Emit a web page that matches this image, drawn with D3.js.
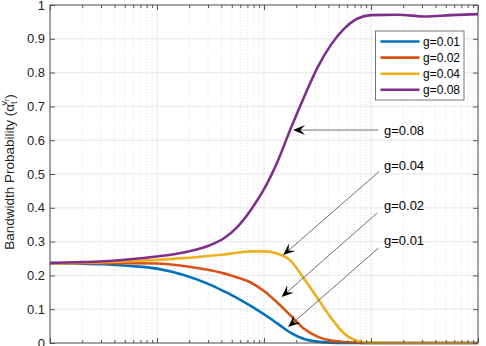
<!DOCTYPE html>
<html>
<head>
<meta charset="utf-8">
<script src="https://d3js.org/d3.v7.min.js"></script>
<style>
  body { margin: 0; background: #fff; }
  text { font-family: "Liberation Sans", Arial, sans-serif; }
</style>
</head>
<body>
<div id="chart"></div>
<script>
// x positions of the read-off points (log axis)
const xValues = [1, 1.78, 3.16, 5.62, 10, 17.8, 31.6, 42.2, 56.2, 75, 100, 133, 178, 237, 316, 422, 562, 750, 1000, 1778, 3162, 5623, 10000];

const seriesNames = ["g=0.01", "g=0.02", "g=0.04", "g=0.08"];
const g001 = [0.236, 0.235, 0.233, 0.228, 0.220, 0.201, 0.172, 0.153, 0.133, 0.110, 0.085, 0.058, 0.030, 0.012, 0.004, 0.001, 0, 0, 0, 0, 0, 0, 0];
const g002 = [0.236, 0.236, 0.236, 0.236, 0.235, 0.228, 0.215, 0.206, 0.194, 0.179, 0.154, 0.120, 0.081, 0.042, 0.019, 0.007, 0.003, 0.001, 0, 0, 0, 0, 0];
const g004 = [0.236, 0.237, 0.239, 0.242, 0.246, 0.251, 0.258, 0.262, 0.267, 0.271, 0.271, 0.265, 0.243, 0.190, 0.133, 0.075, 0.028, 0.006, 0.001, 0, 0, 0, 0];
const g008 = [0.237, 0.239, 0.242, 0.248, 0.256, 0.268, 0.290, 0.310, 0.343, 0.393, 0.455, 0.535, 0.635, 0.728, 0.815, 0.882, 0.930, 0.960, 0.970, 0.971, 0.966, 0.970, 0.973];
const seriesValues = [g001, g002, g004, g008];
const colors = ["#0072BD", "#D95319", "#EDB120", "#7E2F8E"];

const yTicks = [0, 0.1, 0.2, 0.3, 0.4, 0.5, 0.6, 0.7, 0.8, 0.9, 1];
const yTickLabels = ["0", "0.1", "0.2", "0.3", "0.4", "0.5", "0.6", "0.7", "0.8", "0.9", "1"];
const xMajor = [1, 10, 100, 1000, 10000];
const xMinor = [2,3,4,5,6,7,8,9, 20,30,40,50,60,70,80,90, 200,300,400,500,600,700,800,900, 2000,3000,4000,5000,6000,7000,8000,9000];

// text arrows: label, tail (x,y), tip (x,y), label position (x,y)
const annLabels = ["g=0.08", "g=0.04", "g=0.02", "g=0.01"];
const annTail = [[1162, 0.630], [1188, 0.507], [1145, 0.385], [1175, 0.281]];
const annTip = [[187, 0.630], [151, 0.260], [146, 0.136], [168, 0.047]];
const annText = [[1322, 0.630], [1322, 0.524], [1322, 0.408], [1322, 0.302]];

const W = 486, H = 346;
const margin = {top: 5, right: 8, bottom: 3, left: 50};
const width = W - margin.left - margin.right,
      height = H - margin.top - margin.bottom;

const svg = d3.select("#chart").append("svg")
    .attr("width", W).attr("height", H);
const g = svg.append("g")
    .attr("transform", `translate(${margin.left},${margin.top})`);

const x = d3.scaleLog().domain([1, 10000]).range([0, width]);
const y = d3.scaleLinear().domain([0, 1]).range([height, 0]);

// grid
g.append("g").selectAll("line").data(xMinor).join("line")
    .attr("x1", d => x(d)).attr("x2", d => x(d))
    .attr("y1", 0).attr("y2", height)
    .attr("stroke", "#d6d6d6").attr("stroke-width", 0.7)
    .attr("stroke-dasharray", "1,2");
g.append("g").selectAll("line").data(xMajor).join("line")
    .attr("x1", d => x(d)).attr("x2", d => x(d))
    .attr("y1", 0).attr("y2", height)
    .attr("stroke", "#e1e1e1").attr("stroke-width", 0.8);
g.append("g").selectAll("line").data(yTicks).join("line")
    .attr("x1", 0).attr("x2", width)
    .attr("y1", d => y(d)).attr("y2", d => y(d))
    .attr("stroke", "#e1e1e1").attr("stroke-width", 0.8);

// lines
const line = d3.line()
    .x(d => x(d[0]))
    .y(d => y(d[1]))
    .curve(d3.curveMonotoneX);

seriesValues.forEach((vals, i) => {
    g.append("path")
        .datum(xValues.map((xv, j) => [xv, vals[j]]))
        .attr("fill", "none")
        .attr("stroke", colors[i])
        .attr("stroke-width", 2.6)
        .attr("d", line);
});

// axes
const axisColor = "#555";
function styleAxis(sel) {
    sel.select(".domain").remove();
    sel.selectAll(".tick line").attr("stroke", axisColor);
    sel.selectAll(".tick text").attr("fill", "#262626")
        .style("font-size", "13px").style("font-family", "'Liberation Sans', Arial, sans-serif");
}
g.append("g")
    .call(d3.axisLeft(y).tickValues(yTicks).tickFormat((d, i) => yTickLabels[i])
        .tickSizeInner(-5).tickSizeOuter(0).tickPadding(5))
    .call(styleAxis);
g.append("g").attr("transform", `translate(${width},0)`)
    .call(d3.axisRight(y).tickValues(yTicks).tickFormat("").tickSizeInner(-5).tickSizeOuter(0))
    .call(styleAxis);
g.append("g").attr("transform", `translate(0,${height})`)
    .call(d3.axisBottom(x).tickValues(xMajor).tickFormat("").tickSizeInner(-5).tickSizeOuter(0))
    .call(styleAxis);
g.append("g").attr("transform", `translate(0,${height})`)
    .call(d3.axisBottom(x).tickValues(xMinor).tickFormat("").tickSizeInner(-3).tickSizeOuter(0))
    .call(styleAxis);
g.append("g")
    .call(d3.axisTop(x).tickValues(xMajor).tickFormat("").tickSizeInner(-5).tickSizeOuter(0))
    .call(styleAxis);
g.append("g")
    .call(d3.axisTop(x).tickValues(xMinor).tickFormat("").tickSizeInner(-3).tickSizeOuter(0))
    .call(styleAxis);

g.append("rect")
    .attr("width", width).attr("height", height)
    .attr("fill", "none").attr("stroke", axisColor).attr("stroke-width", 1);

// y label
const yl = svg.append("text")
    .attr("transform", `translate(14,${margin.top + height / 2 - 2}) rotate(-90)`)
    .attr("text-anchor", "middle")
    .attr("fill", "#262626")
    .style("font-size", "13.5px");
yl.append("tspan").text("Bandwidth Probability (\u03B1");
yl.append("tspan").attr("dy", 3).style("font-size", "9px").text("t");
yl.append("tspan").attr("dx", -4).attr("dy", -10).style("font-size", "9px").text("v");
yl.append("tspan").attr("dy", 2).style("font-size", "6.5px").text("r");
yl.append("tspan").attr("dy", 5).text(")");

// legend
const lg = g.append("g").attr("transform", `translate(${375.5 - margin.left},${31 - margin.top})`);
lg.append("rect").attr("width", 88.5).attr("height", 69)
    .attr("fill", "#fff").attr("stroke", "#555").attr("stroke-width", 0.8);
seriesNames.forEach((name, i) => {
    const yy = 10.5 + i * 16.1;
    lg.append("line").attr("x1", 5).attr("x2", 44).attr("y1", yy).attr("y2", yy)
        .attr("stroke", colors[i]).attr("stroke-width", 2.6);
    lg.append("text").attr("x", 47.5).attr("y", yy).attr("dy", "0.35em")
        .attr("fill", "#000").style("font-size", "12px").text(name);
});

// arrows
const headL = 12, headW = 10;
annLabels.forEach((lab, i) => {
    const x1 = x(annTail[i][0]), y1 = y(annTail[i][1]);
    const x2 = x(annTip[i][0]), y2 = y(annTip[i][1]);
    const ang = Math.atan2(y2 - y1, x2 - x1);
    g.append("line")
        .attr("x1", x1).attr("y1", y1)
        .attr("x2", x2 - Math.cos(ang) * headL * 0.6).attr("y2", y2 - Math.sin(ang) * headL * 0.6)
        .attr("stroke", "#333").attr("stroke-width", 0.7);
    g.append("path")
        .attr("d", `M0,0 L${-headL},${-headW / 2} L${-headL * 0.6},0 L${-headL},${headW / 2} Z`)
        .attr("transform", `translate(${x2},${y2}) rotate(${ang * 180 / Math.PI})`)
        .attr("fill", "#000");
    g.append("text")
        .attr("x", x(annText[i][0])).attr("y", y(annText[i][1]))
        .attr("dy", "0.35em")
        .attr("fill", "#000").style("font-size", "13px")
        .text(lab);
});
</script>
</body>
</html>
